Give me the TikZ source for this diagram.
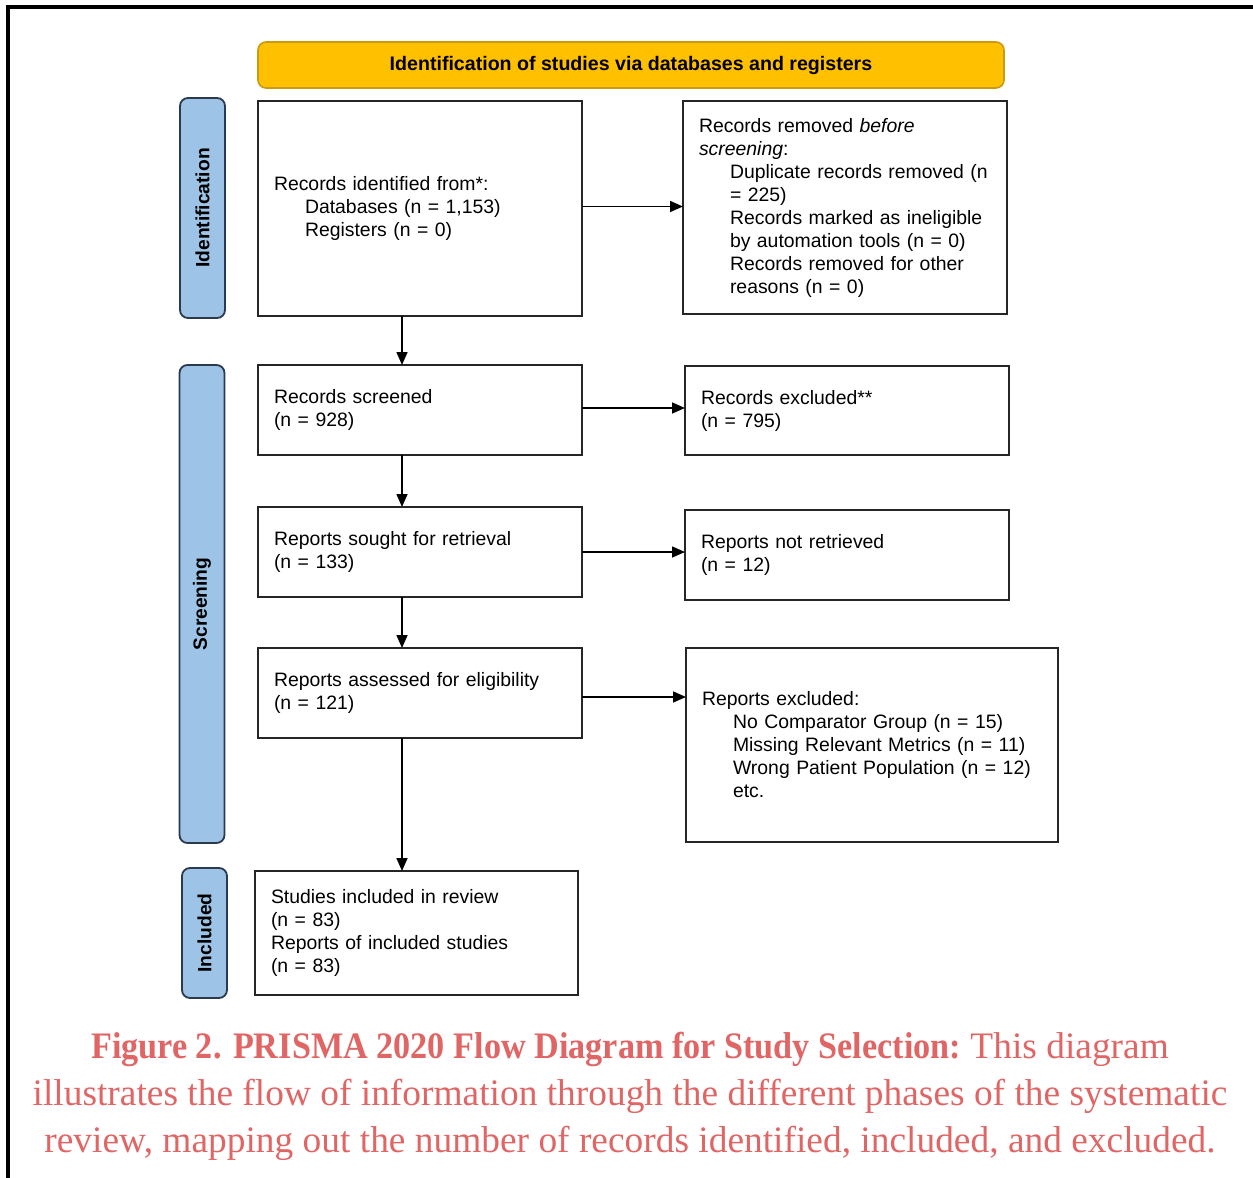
\documentclass[tikz,border=0pt]{standalone}
\usepackage{fontspec}
\setmainfont{Liberation Sans}
\newfontfamily\capfont{Liberation Serif}
\usetikzlibrary{arrows.meta,positioning,calc}
\definecolor{cGold}{HTML}{FFC000}
\definecolor{cGoldEdge}{HTML}{C99A12}
\definecolor{cSky}{HTML}{9DC3E6}
\definecolor{cSkyEdge}{HTML}{2B3A4E}
\definecolor{cRose}{HTML}{E06666}

\begin{document}
\begin{tikzpicture}[x=.5pt,y=-.5pt,font=\fontsize{9.7}{11.5}\selectfont,
  arr/.style={line width=.8pt,-{Triangle[length=6.5pt,width=5.5pt]}},
  box/.style 2 args={draw=black!85,line width=.9pt,inner xsep=8pt,inner ysep=0pt,outer sep=0pt,
    align=left,anchor=north west,text width=#1,minimum height=#2},
  head/.style={draw=cGoldEdge,fill=cGold,line width=.8pt,rounded corners=4pt,outer sep=0pt,
    minimum width=373pt,minimum height=23pt,font=\fontsize{9.8}{11}\selectfont\bfseries},
  phase/.style={draw=cSkyEdge,fill=cSky,line width=.9pt,rounded corners=4pt,rotate=90,inner sep=0pt,
    outer sep=0pt,minimum height=22.5pt,font=\fontsize{9.6}{11}\selectfont\bfseries}]
\path[use as bounding box] (0,0) rectangle (1253,1178);
\draw[line width=1.6pt] (1253,7)--(8,7)--(8,1178);
\node[head] (head) at (631,65) {Identification of studies via databases and registers};
\foreach \nm/\cx/\cy/\len in {Identification/202.5/208/110pt,Screening/202/604/239pt,Included/204.5/933/65pt}
  \node[phase,minimum width=\len] (\nm) at (\cx,\cy) {\nm};
% left column
\node[box={146pt}{107.5pt}] (ident) at (258,101) {Records identified from*:\\
  \hspace*{15.5pt}Databases (n = 1,153)\\ \hspace*{15.5pt}Registers (n = 0)};
\node[box={146pt}{45pt}] (screened) at (258,365) {Records screened\\ (n = 928)};
\node[box={146pt}{45pt}] (sought) at (258,507) {Reports sought for retrieval\\ (n = 133)};
\node[box={146pt}{45pt}] (assessed) at (258,648) {Reports assessed for eligibility\\ (n = 121)};
\node[box={145.5pt}{62pt}] (included) at (255,871) {Studies included in review\\ (n = 83)\\
  Reports of included studies\\ (n = 83)};
% right column
\node[box={146pt}{106.5pt}] (removed) at (683,101) {Records removed \textit{before}\\ \textit{screening}:\\
  \hspace*{15.5pt}Duplicate records removed (n\\ \hspace*{15.5pt}= 225)\\
  \hspace*{15.5pt}Records marked as ineligible\\ \hspace*{15.5pt}by automation tools (n = 0)\\
  \hspace*{15.5pt}Records removed for other\\ \hspace*{15.5pt}reasons (n = 0)};
\node[box={146pt}{44.5pt}] (excluded) at (685,366) {Records excluded**\\ (n = 795)};
\node[box={146pt}{45pt}] (notret) at (685,510) {Reports not retrieved\\ (n = 12)};
\node[box={170pt}{97pt}] (rejected) at (686,648) {Reports excluded:\\
  \hspace*{15.5pt}No Comparator Group (n = 15)\\ \hspace*{15.5pt}Missing Relevant Metrics (n = 11)\\
  \hspace*{15.5pt}Wrong Patient Population (n = 12)\\ \hspace*{15.5pt}etc.};
% arrows
\coordinate (spine) at (402,0);
\draw[arr] (ident.south -| spine) -- (screened.north -| spine);
\draw[arr] (screened.south -| spine) -- (sought.north -| spine);
\draw[arr] (sought.south -| spine) -- (assessed.north -| spine);
\draw[arr] (assessed.south -| spine) -- (included.north -| spine);
\draw[arr] ([yshift=1pt]ident.east) -- ([yshift=1pt]ident.east -| removed.west);
\draw[arr] ([yshift=1pt]screened.east) -- ([yshift=1pt]screened.east -| excluded.west);
\draw[arr] (sought.east) -- (sought.east -| notret.west);
\draw[arr] ([yshift=-2pt]assessed.east) -- ([yshift=-2pt]assessed.east -| rejected.west);
\node[font=\capfont\fontsize{18.7}{23.5}\selectfont,text=cRose,align=center] (caption) at (630,1096)
  {\scalebox{.915}[1]{\textbf{Figure 2. PRISMA 2020 Flow Diagram for Study Selection:}} This diagram\\
  illustrates the flow of information through the different phases of the systematic\\
  review, mapping out the number of records identified, included, and excluded.};
\end{tikzpicture}
\end{document}
